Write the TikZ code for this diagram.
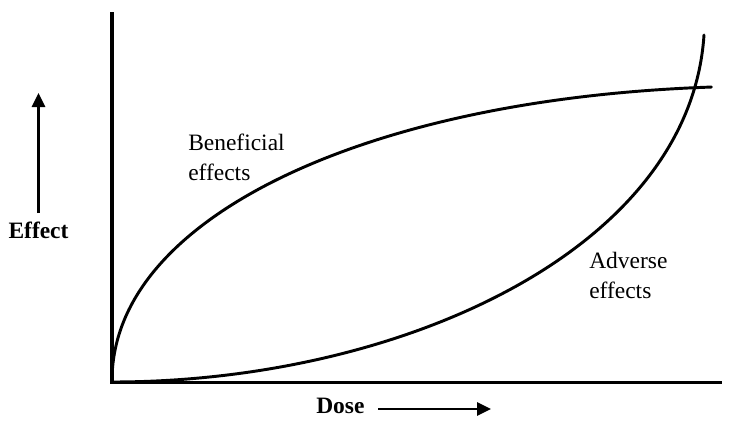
\documentclass[tikz,border=0pt]{standalone}
\usepackage{fontspec}
\setmainfont{Liberation Serif}
\usetikzlibrary{arrows.meta}
\begin{document}
\begin{tikzpicture}[x=0.75pt,y=-0.75pt,
  axis/.style={line width=2.3pt},
  curve/.style={line width=2.2pt, line join=round, line cap=round},
  lbl/.style={font=\fontsize{17.6}{22.5}\selectfont, inner sep=0pt, align=left},
  blbl/.style={font=\fontsize{17.6}{22.5}\selectfont\bfseries, inner sep=0pt},
  dirarrow/.style={line width=1.6pt, -{Triangle[width=10pt,length=10.5pt]}}]
\useasboundingbox (0,0) rectangle (733,439);
% axes
\coordinate (O) at (112,382.5);
\coordinate (ytop) at (112,12);
\coordinate (xend) at (722,382.5);
\draw[axis] (ytop) -- (O) -- (xend);
% beneficial effects curve
\draw[curve] plot[domain=0:1, samples=120, variable=\s]
  ({112+601*\s*\s}, {381-294*(1.5*\s-0.318*\s*\s-0.182*\s*\s*\s*\s)});
% adverse effects curve
\coordinate (a0) at (112,382);
\coordinate (a1) at (400,382);
\coordinate (a2) at (690,250);
\coordinate (a3) at (704,35);
\draw[curve] (a0) .. controls (a1) and (a2) .. (a3);
% labels
\node[lbl, anchor=north west] (benef) at (188,134) {Beneficial\\effects};
\node[lbl, anchor=north west] (adv) at (589,252) {Adverse\\effects};
\node[blbl, anchor=base] (effect) at (38.5,238) {Effect};
\coordinate (ea) at (38.5,213);
\coordinate (eb) at (38.5,93);
\draw[dirarrow] (ea) -- (eb);
\node[blbl, anchor=base west] (dose) at (316,413) {Dose};
\coordinate (da) at (378,409);
\coordinate (db) at (491,409);
\draw[dirarrow] (da) -- (db);
\end{tikzpicture}
\end{document}
